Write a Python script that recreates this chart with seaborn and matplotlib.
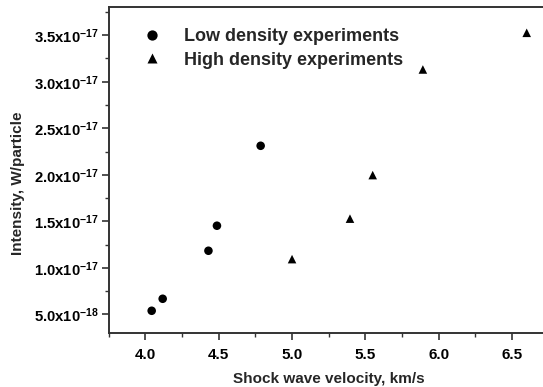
import matplotlib
matplotlib.use("Agg")
import matplotlib.pyplot as plt
import seaborn as sns
import pandas as pd
import numpy as np
from matplotlib.ticker import MultipleLocator, FuncFormatter

low_x = [4.043, 4.118, 4.430, 4.488, 4.786]
low_y = [5.39e-18, 6.68e-18, 1.184e-17, 1.453e-17, 2.312e-17]
high_x = [5.00, 5.395, 5.55, 5.892, 6.60]
high_y = [1.094e-17, 1.529e-17, 1.997e-17, 3.132e-17, 3.526e-17]
series_names = ["Low density experiments", "High density experiments"]
x_label = "Shock wave velocity, km/s"
y_label = "Intensity, W/particle"

sns.set_style("ticks")
plt.rcParams['font.family'] = ['Liberation Sans', 'DejaVu Sans']
plt.rcParams['font.weight'] = 'bold'
plt.rcParams['mathtext.fontset'] = 'custom'
plt.rcParams['mathtext.rm'] = 'Liberation Sans:bold'
plt.rcParams['mathtext.bf'] = 'Liberation Sans:bold'
plt.rcParams['mathtext.it'] = 'Liberation Sans:bold'

df = pd.DataFrame({
    "x": low_x + high_x,
    "y": low_y + high_y,
    "series": [series_names[0]] * len(low_x) + [series_names[1]] * len(high_x),
})

fig = plt.figure(figsize=(5.43, 3.87), dpi=100)
ax = fig.add_axes([0.2002, 0.1395, 0.8103, 0.8416])

sns.scatterplot(data=df, x="x", y="y", style="series", hue="series",
                palette=["black", "black"], markers=["o", "^"],
                s=38, edgecolor="none", ax=ax, legend=True)

ax.set_xlim(3.75, 6.75)
ax.set_ylim(3e-18, 3.8e-17)
ax.set_xticks(np.arange(4.0, 6.51, 0.5))
ax.xaxis.set_minor_locator(MultipleLocator(0.25))
ax.set_yticks(np.arange(5e-18, 3.6e-17, 5e-18))
ax.yaxis.set_minor_locator(MultipleLocator(2.5e-18))

def yfmt(v, pos):
    if v <= 0:
        return ""
    exp = int(f"{v:.1e}".split("e")[1])
    mant = v / 10 ** exp
    return r"$\mathbf{%.1fx10^{%d}}$" % (mant, exp)

ax.yaxis.set_major_formatter(FuncFormatter(yfmt))
ax.xaxis.set_major_formatter(FuncFormatter(lambda v, p: f"{v:.1f}"))
ax.yaxis.get_offset_text().set_visible(False)
ax.xaxis.get_offset_text().set_visible(False)

for s in ["left", "bottom", "top", "right"]:
    ax.spines[s].set_color("#333333")
    ax.spines[s].set_linewidth(1.4)
ax.tick_params(which="major", direction="out", length=5, width=1.2, color="#333333",
               labelsize=11, labelcolor="black")
ax.tick_params(which="minor", direction="out", length=3, width=1.0, color="#333333")
ax.tick_params(axis="x", pad=6)
ax.tick_params(axis="y", labelsize=10.7, pad=2)
for lab in ax.get_xticklabels() + ax.get_yticklabels():
    lab.set_fontweight("bold")

ax.set_xlabel(x_label, fontsize=11, fontweight="bold")
ax.set_ylabel(y_label, fontsize=11, fontweight="bold")
ax.xaxis.set_label_coords(0.5, -0.12)
ax.yaxis.set_label_coords(-0.19, 0.46)

handles, labels = ax.get_legend_handles_labels()
leg = ax.legend(handles, labels, loc="upper left", bbox_to_anchor=(0.02, 0.985),
                frameon=False, fontsize=13, handletextpad=0.8, markerscale=1.2,
                labelspacing=0.35)
for t in leg.get_texts():
    t.set_fontweight("bold")

fig.savefig("out.png", dpi=100)
